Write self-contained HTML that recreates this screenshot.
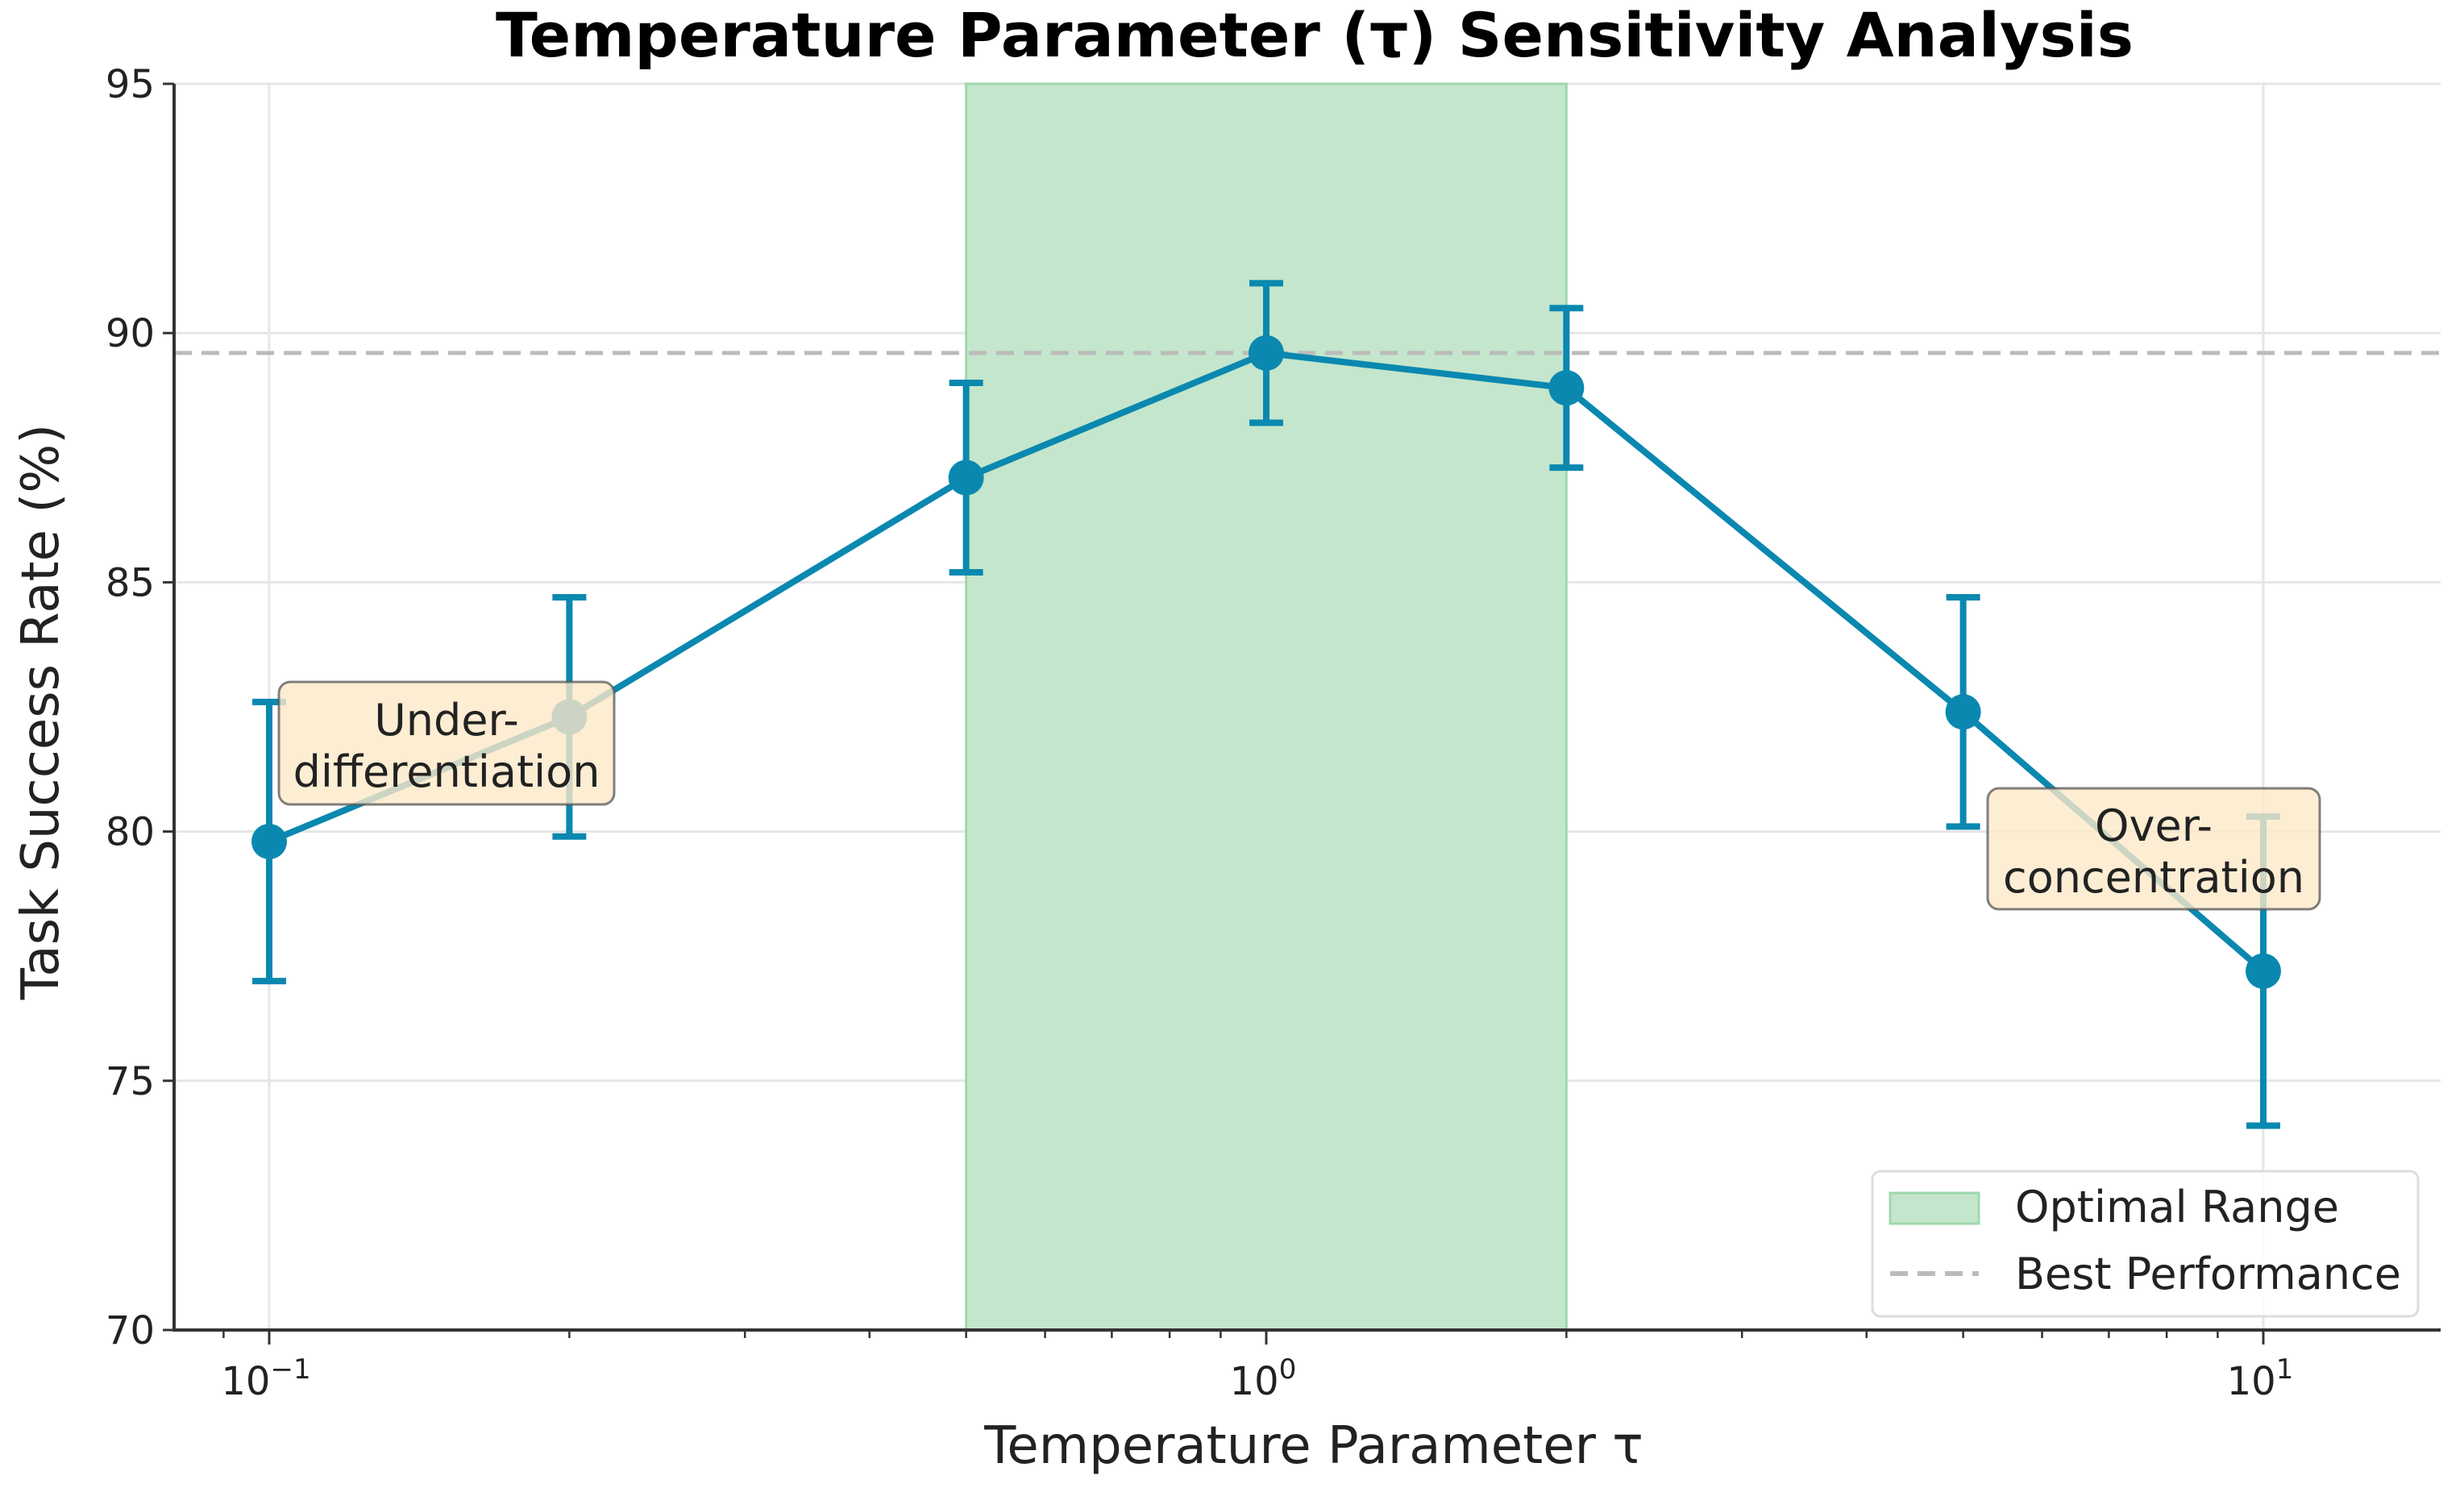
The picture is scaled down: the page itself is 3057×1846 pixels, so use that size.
<!DOCTYPE html>
<html><head><meta charset="utf-8"><style>
body{margin:0;background:#fff}
svg{display:block;font-family:"DejaVu Sans","Liberation Sans",sans-serif}
</style></head><body>
<svg id="chart" width="3057" height="1846" viewBox="0 0 3057 1846" xmlns="http://www.w3.org/2000/svg">
<rect width="3057" height="1846" fill="#fff"/>
<text x="1631" y="70" text-anchor="middle" font-size="76" font-weight="bold">Temperature Parameter (τ) Sensitivity Analysis</text>
<g id="grid"></g>
<g id="span"></g>
<g id="best"></g>
<g id="series"></g>
<g id="axes"></g>
<g id="annos"></g>
<text transform="translate(72,883) rotate(-90)" text-anchor="middle" font-size="64" fill="#222">Task Success Rate (%)</text>
<text x="1630" y="1815" text-anchor="middle" font-size="64" fill="#222">Temperature Parameter τ</text>
<g>
<rect x="2323" y="1453" width="677" height="180" rx="10" fill="#fff" fill-opacity="0.85" stroke="#ddd" stroke-width="3"/>
<rect x="2345" y="1480" width="110" height="38" fill="#c4e6cc" stroke="#9fd8ad" stroke-width="3"/>
<text x="2500" y="1516" font-size="54" fill="#222">Optimal Range</text>
<line x1="2345" y1="1580" x2="2455" y2="1580" stroke="#bbb" stroke-width="6" stroke-dasharray="22,12"/>
<text x="2500" y="1599" font-size="54" fill="#222">Best Performance</text>
</g>
</svg>
<script>
const taus=[0.1,0.2,0.5,1,2,5,10];
const rates=[79.8,82.3,87.1,89.6,88.9,82.4,77.2];
const lows=[77.0,79.9,85.2,88.2,87.3,80.1,74.1];
const highs=[82.6,84.7,89.0,91.0,90.5,84.7,80.3];
const yTicks=[70,75,80,85,90,95];
const xMajor=[-1,0,1];
const bestValue=89.6;
const optimalRange=[0.5,2];

const NS='http://www.w3.org/2000/svg';
const X0=216,X1=3028,Y0=104,Y1=1650;
function xs(v){return 1571+Math.log10(v)*1237;}
function ys(v){return Y1-(v-70)/25*(Y1-Y0);}
function mk(parent,tag,attrs){const e=document.createElementNS(NS,tag);for(const k in attrs)e.setAttribute(k,attrs[k]);document.getElementById(parent).appendChild(e);return e;}

yTicks.forEach(t=>{
  const g=mk('grid','line',{x1:X0,x2:X1,y1:ys(t),y2:ys(t),stroke:'#e6e6e6','stroke-width':3});
  
  
  const tk=mk('axes','line',{x1:X0-14,x2:X0,y1:ys(t),y2:ys(t),stroke:'#333','stroke-width':3});
  
  
  const l=mk('axes','text',{x:X0-24,y:ys(t)+17,'text-anchor':'end','font-size':48,fill:'#222'});
  l.textContent=t;
  
  
});
xMajor.forEach(p=>{
  const v=Math.pow(10,p);
  const g=mk('grid','line',{x1:xs(v),x2:xs(v),y1:Y0,y2:Y1,stroke:'#e6e6e6','stroke-width':3});
  
  
  const tk=mk('axes','line',{x1:xs(v),x2:xs(v),y1:Y1,y2:Y1+18,stroke:'#333','stroke-width':3});
  
  
  const l=mk('axes','text',{x:xs(v)-4,y:Y1+80,'text-anchor':'middle','font-size':48,fill:'#222'});
  l.innerHTML='10<tspan dy="-20" font-size="34">'+(p<0?'−1':p)+'</tspan>';
  
  
});
for(let p=-2;p<=1;p++){for(let m=2;m<=9;m++){const v=m*Math.pow(10,p);const x=xs(v);if(x<X0||x>X1)continue;
  const tk=mk('axes','line',{x1:x,x2:x,y1:Y1,y2:Y1+10,stroke:'#333','stroke-width':2.5});
  
  }}
const sp=mk('span','rect',{x:xs(optimalRange[0]),y:Y0,width:xs(optimalRange[1])-xs(optimalRange[0]),height:Y1-Y0,fill:'#c4e6cc',stroke:'#9fd8ad','stroke-width':3});


const bl=mk('best','line',{x1:X0,x2:X1,y1:ys(bestValue),y2:ys(bestValue),stroke:'#bbb','stroke-width':5,'stroke-dasharray':'22,12'});


const ax=mk('axes','path',{d:`M${X0},${Y0}V${Y1}H${X1}`,fill:'none',stroke:'#333','stroke-width':4});



const C='#0a88b0';
taus.forEach((t,i)=>{
  const x=xs(t);
  const e=mk('series','path',{d:`M${x},${ys(lows[i])}V${ys(highs[i])}M${x-21},${ys(lows[i])}h42M${x-21},${ys(highs[i])}h42`,stroke:C,'stroke-width':8,fill:'none'});
  
  
});
const ln=mk('series','polyline',{points:taus.map((t,i)=>xs(t)+','+ys(rates[i])).join(' '),fill:'none',stroke:C,'stroke-width':8});


taus.forEach((t,i)=>{
  const c=mk('series','circle',{cx:xs(t),cy:ys(rates[i]),r:22,fill:C});
  
  
});
function anno(x,y,w,h,l1,l2,name){
  const r=mk('annos','rect',{x:x,y:y,width:w,height:h,rx:14,fill:'#fde8c8','fill-opacity':0.8,stroke:'#555','stroke-opacity':0.75,'stroke-width':3});
  
  
  const t=mk('annos','text',{x:x+w/2,y:y+h/2-10,'text-anchor':'middle','font-size':54,fill:'#222'});
  t.innerHTML='<tspan x="'+(x+w/2)+'">'+l1+'</tspan><tspan x="'+(x+w/2)+'" dy="64">'+l2+'</tspan>';
  
  
}
anno(346,846,416,152,'Under-','differentiation','under-differentiation-annotation');
anno(2466,978,412,150,'Over-','concentration','over-concentration-annotation');
</script>
</body></html>
